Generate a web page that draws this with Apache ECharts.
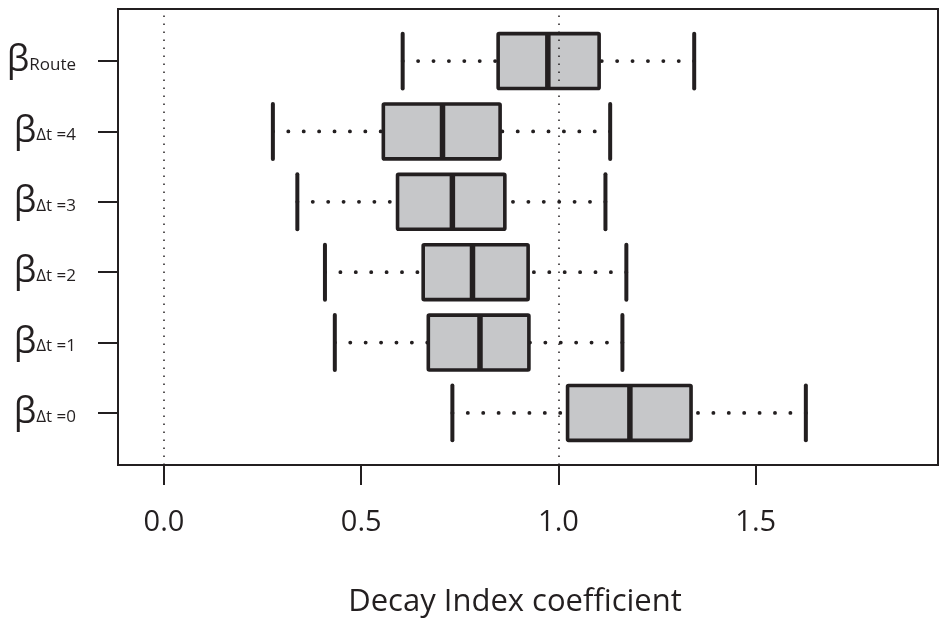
<!DOCTYPE html>
<html>
<head>
<meta charset="utf-8">
<script src="https://cdn.jsdelivr.net/npm/echarts@6/dist/echarts.min.js"></script>
<style>
  html, body { margin: 0; padding: 0; background: #fff; }
  #chart { width: 946px; height: 623px; }
</style>
</head>
<body>
<div id="chart"></div>
<script>
// rows listed top to bottom
const labels = ['Route', 'Δt =4', 'Δt =3', 'Δt =2', 'Δt =1', 'Δt =0'];
const lowerWhisker = [0.605, 0.276, 0.338, 0.408, 0.433, 0.731];
const q1 = [0.847, 0.556, 0.592, 0.657, 0.670, 1.023];
const median = [0.973, 0.706, 0.731, 0.782, 0.801, 1.181];
const q3 = [1.103, 0.852, 0.864, 0.923, 0.925, 1.336];
const upperWhisker = [1.344, 1.131, 1.119, 1.172, 1.162, 1.627];
const xTicks = [0, 0.5, 1.0, 1.5];
const refLines = [0, 1];

const INK = '#231f20';
const FILL = '#c6c7c9';

const rowPos = labels.map((_, i) => labels.length - i);
const boxData = labels.map((_, i) => [
  rowPos[i], lowerWhisker[i], q1[i], median[i], q3[i], upperWhisker[i]
]);

function renderBox(params, api) {
  const y = api.value(0);
  const lo = api.coord([api.value(1), y]);
  const b1 = api.coord([api.value(2), y]);
  const md = api.coord([api.value(3), y]);
  const b3 = api.coord([api.value(4), y]);
  const hi = api.coord([api.value(5), y]);
  const half = api.size([0, 1])[1] * 0.39;
  const cy = lo[1];

  const dotted = {
    stroke: INK, lineWidth: 3.8, lineCap: 'round', lineDash: [0.1, 15.3]
  };
  const solid = { stroke: INK, lineWidth: 4, lineCap: 'round' };

  // whiskers run from the cap towards the box
  return {
    type: 'group',
    children: [
      { type: 'line', shape: { x1: lo[0], y1: cy, x2: b1[0], y2: cy }, style: dotted },
      { type: 'line', shape: { x1: hi[0], y1: cy, x2: b3[0], y2: cy }, style: dotted },
      { type: 'line', shape: { x1: lo[0], y1: cy - half, x2: lo[0], y2: cy + half }, style: solid },
      { type: 'line', shape: { x1: hi[0], y1: cy - half, x2: hi[0], y2: cy + half }, style: solid },
      {
        type: 'rect',
        shape: { x: b1[0], y: cy - half, width: b3[0] - b1[0], height: half * 2, r: 1 },
        style: { fill: FILL, stroke: INK, lineWidth: 3.6 }
      },
      {
        type: 'line',
        shape: { x1: md[0], y1: cy - half, x2: md[0], y2: cy + half },
        style: { stroke: INK, lineWidth: 5.5 }
      }
    ]
  };
}

const chart = echarts.init(document.getElementById('chart'), null, { renderer: 'canvas' });

chart.setOption({
  animation: false,
  backgroundColor: '#fff',
  textStyle: { fontFamily: 'Open Sans' },
  grid: {
    left: 118,
    right: 8,
    top: 9,
    bottom: 155,
    show: true,
    borderColor: INK,
    borderWidth: 2,
    backgroundColor: 'transparent'
  },
  xAxis: {
    type: 'value',
    min: -0.1166,
    max: 1.962,
    axisLine: { show: false, onZero: false },
    splitLine: { show: false },
    axisTick: {
      show: true,
      inside: false,
      length: 20,
      customValues: xTicks,
      lineStyle: { color: INK, width: 2 }
    },
    axisLabel: {
      customValues: xTicks,
      margin: 43,
      fontSize: 29,
      color: INK,
      fontFamily: 'Open Sans',
      formatter: v => v.toFixed(1)
    },
    name: 'Decay Index coefficient',
    nameLocation: 'middle',
    nameGap: 122,
    nameTextStyle: {
      fontSize: 31,
      color: INK,
      fontFamily: 'Open Sans',
      padding: [0, 26, 0, 0]
    }
  },
  yAxis: {
    type: 'value',
    min: 0.26,
    max: 6.74,
    axisLine: { show: false, onZero: false },
    splitLine: { show: false },
    axisTick: {
      show: true,
      inside: false,
      length: 20,
      customValues: rowPos,
      lineStyle: { color: INK, width: 2 }
    },
    axisLabel: {
      customValues: rowPos,
      margin: 42,
      color: INK,
      formatter: v => {
        const name = labels[labels.length - Math.round(v)];
        return '{b|β}{s|' + name + '}';
      },
      rich: {
        b: { fontSize: 36, fontFamily: 'Open Sans', color: INK, lineHeight: 40 },
        s: { fontSize: 17, fontFamily: 'Open Sans', color: INK, lineHeight: 40, padding: [8, 0, 0, 0] }
      }
    }
  },
  series: [
    {
      type: 'custom',
      renderItem: renderBox,
      data: boxData,
      encode: { x: [1, 2, 3, 4, 5], y: 0 },
      z: 3,
      markLine: {
        silent: true,
        symbol: 'none',
        label: { show: false },
        lineStyle: { color: INK, width: 1.5, type: [1.5, 6.5] },
        data: refLines.map(v => ({ xAxis: v }))
      }
    }
  ]
});
</script>
</body>
</html>
